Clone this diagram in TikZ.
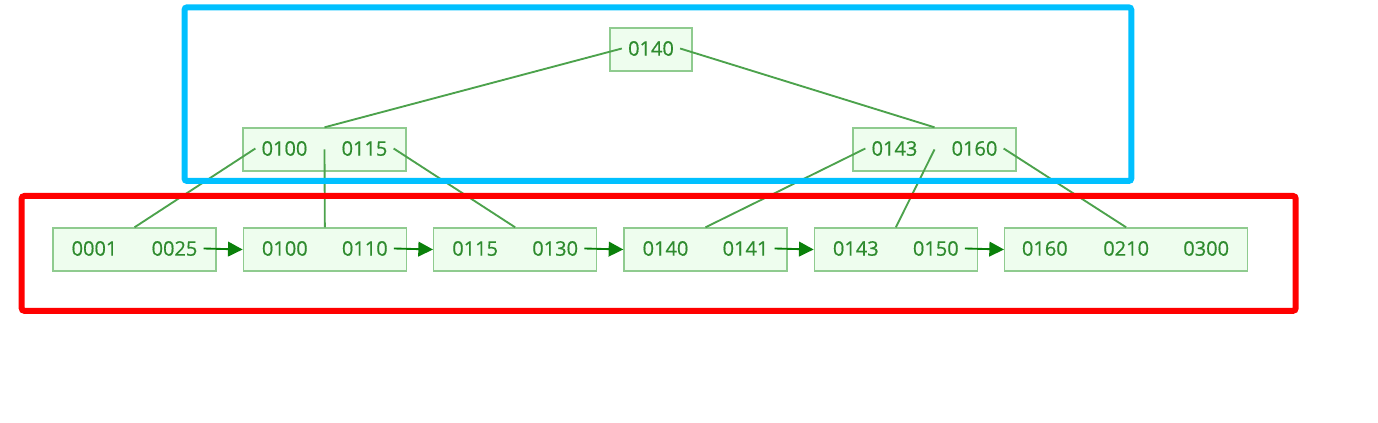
\documentclass[tikz,border=0pt]{standalone}
\usepackage{fontspec}
\setmainfont{Open Sans}
\newfontfamily\keyfont[FakeBold=0.6]{Open Sans}
\usetikzlibrary{positioning,arrows.meta}
\definecolor{keygreen}{HTML}{2E8B2E}
\definecolor{boxline}{HTML}{8FCB8F}
\definecolor{boxfill}{HTML}{EEFDEE}
\definecolor{linkgreen}{HTML}{4CA24C}
\definecolor{arrowgreen}{HTML}{0A800A}
\definecolor{innerblue}{HTML}{00C0FF}
\definecolor{leafred}{HTML}{FF0000}
\begin{document}
\begin{tikzpicture}[x=0.75pt,y=-0.75pt]
\tikzstyle{box}=[rectangle, draw=boxline, fill=boxfill, line width=1pt, minimum width=122.25pt, minimum height=32.25pt, inner sep=0pt, node distance=19.5pt]
\tikzstyle{key}=[text=keygreen, font=\keyfont\fontsize{15}{18}\selectfont, inner sep=4.5pt]
\tikzstyle{connect}=[draw=linkgreen, line width=1.4pt]
\tikzstyle{nextleaf}=[-{Triangle[length=11pt,width=11pt]}, draw=arrowgreen, fill=arrowgreen, line width=1.4pt]
\tikzstyle{frame}=[rounded corners=2pt, line width=4.5pt]
\useasboundingbox (0,0) rectangle (1378,423);
% boxes
  \node[box, minimum width=61.5pt] (r0) at (651,49.5) {};
  \node[box] (m1) at (324.5,149.5) {};
  \node[box] (m2) at (934.5,149.5) {};
  \node[box] (l1) at (134.5,249.5) {};
  \node[box] (l2) [right =of l1] {};
  \node[box] (l3) [right =of l2] {};
  \node[box] (l4) [right =of l3] {};
  \node[box] (l5) [right =of l4] {};
  \node[box, minimum width=182.25pt] (l6) [right =of l5] {};
% keys
  \node[key] (k0) at ([yshift=0.75pt]r0.center) {0140};
  \node[key] (m1a) at ([xshift=-30pt,yshift=0.75pt]m1.center) {0100};
  \node[key] (m1b) at ([xshift=30pt,yshift=0.75pt]m1.center) {0115};
  \node[key] (m2a) at ([xshift=-30pt,yshift=0.75pt]m2.center) {0143};
  \node[key] (m2b) at ([xshift=30pt,yshift=0.75pt]m2.center) {0160};
  \node[key] (l1a) at ([xshift=-30pt,yshift=0.75pt]l1.center) {0001};
  \node[key] (l1b) at ([xshift=30pt,yshift=0.75pt]l1.center) {0025};
  \node[key] (l2a) at ([xshift=-30pt,yshift=0.75pt]l2.center) {0100};
  \node[key] (l2b) at ([xshift=30pt,yshift=0.75pt]l2.center) {0110};
  \node[key] (l3a) at ([xshift=-30pt,yshift=0.75pt]l3.center) {0115};
  \node[key] (l3b) at ([xshift=30pt,yshift=0.75pt]l3.center) {0130};
  \node[key] (l4a) at ([xshift=-30pt,yshift=0.75pt]l4.center) {0140};
  \node[key] (l4b) at ([xshift=30pt,yshift=0.75pt]l4.center) {0141};
  \node[key] (l5a) at ([xshift=-30pt,yshift=0.75pt]l5.center) {0143};
  \node[key] (l5b) at ([xshift=30pt,yshift=0.75pt]l5.center) {0150};
  \node[key] (l6a) at ([xshift=-61pt,yshift=0.75pt]l6.center) {0160};
  \node[key] (l6b) at ([yshift=0.75pt]l6.center) {0210};
  \node[key] (l6c) at ([xshift=60pt,yshift=0.75pt]l6.center) {0300};
% tree links
  \path[connect] (k0.west) edge (m1.north)
           (k0.east) edge (m2.north)
           (m1a.west) edge (l1.north)
           (m1.center) edge (l2.north)
           (m1b.east) edge (l3.north)
           (m2a.west) edge (l4.north)
           (m2.center) edge (l5.north)
           (m2b.east) edge (l6.north)
           ;
% leaf chain
  \draw[nextleaf] (l1b.east) -- (l2.west);
  \draw[nextleaf] (l2b.east) -- (l3.west);
  \draw[nextleaf] (l3b.east) -- (l4.west);
  \draw[nextleaf] (l4b.east) -- (l5.west);
  \draw[nextleaf] (l5b.east) -- (l6.west);
% frames
  \coordinate (b1) at (184.5,7.3);
  \coordinate (b2) at (1131.3,181);
  \coordinate (c1) at (21.7,196);
  \coordinate (c2) at (1295.7,310.8);
  \draw[frame, innerblue] (b1) rectangle (b2);
  \draw[frame, leafred] (c1) rectangle (c2);
\end{tikzpicture}
\end{document}
